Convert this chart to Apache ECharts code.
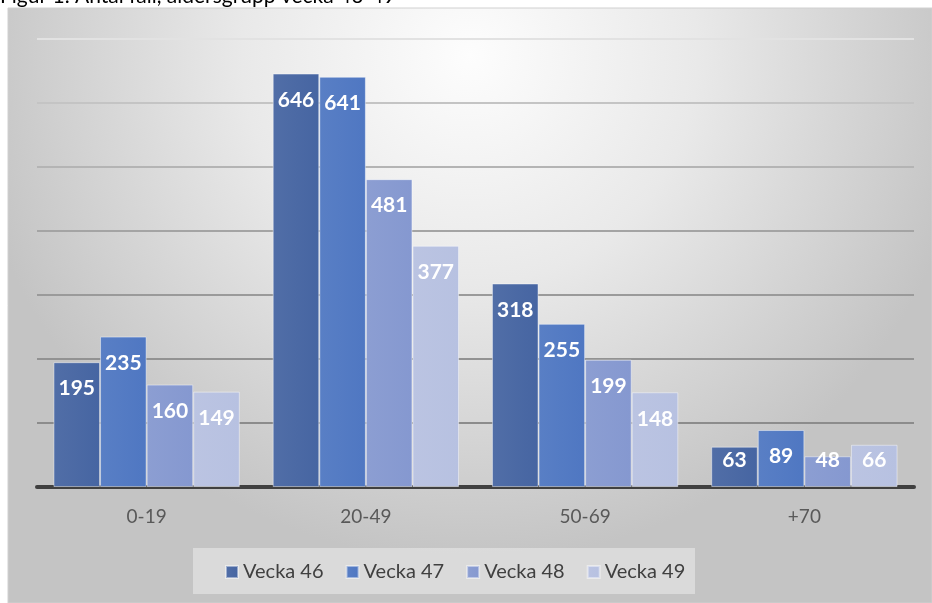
<!DOCTYPE html>
<html>
<head>
<meta charset="utf-8">
<script src="https://cdn.jsdelivr.net/npm/echarts@6/dist/echarts.min.js"></script>
<style>
  html, body { margin: 0; padding: 0; background: #fff; }
  #chart { width: 932px; height: 603px; }
</style>
</head>
<body>
<div id="chart"></div>
<script>
// age groups and weekly case counts
const categories = ['0-19', '20-49', '50-69', '+70']
const weeks = ['Vecka 46', 'Vecka 47', 'Vecka 48', 'Vecka 49']
const vecka46 = [195, 646, 318, 63]
const vecka47 = [235, 641, 255, 89]
const vecka48 = [160, 481, 199, 48]
const vecka49 = [149, 377, 148, 66]
const seriesValues = [vecka46, vecka47, vecka48, vecka49]

const colors = ['#4665a2', '#4f77c2', '#8598d0', '#b7c1e1']
const font = 'Lato, "Open Sans", sans-serif'

const gridTop = 39
const gridBottom = 116
const yMax = 700
const pxPerUnit = (603 - gridTop - gridBottom) / yMax

let chart = echarts.init(document.getElementById('chart'))

const series = weeks.map((name, i) => ({
  name: name,
  type: 'bar',
  barGap: '0%',
  barCategoryGap: '15%',
  z: 3,
  data: seriesValues[i].map(v => ({
    value: v,
    // Excel keeps labels off the axis: short bars get the label pulled up
    label: { distance: Math.min(16, v * pxPerUnit - 37) }
  })),
  itemStyle: {
    color: new echarts.graphic.LinearGradient(0, 0, 1, 0, [
      { offset: 0, color: echarts.color.lift(colors[i], 0.06) },
      { offset: 1, color: colors[i] }
    ]),
    borderColor: 'rgba(255,255,255,0.45)',
    borderWidth: 1
  },
  label: {
    show: true,
    position: 'insideTop',
    color: '#fff',
    fontFamily: font,
    fontWeight: 'bold',
    fontSize: 21
  }
}))

const option = {
  animation: false,
  color: colors,
  graphic: [
    {
      type: 'rect',
      z: -10,
      shape: { x: 8, y: 8, width: 924, height: 595 },
      style: {
        fill: new echarts.graphic.RadialGradient(0.5, 0.08, 0.85, [
          { offset: 0, color: '#fdfdfd' },
          { offset: 0.45, color: '#e9e9e9' },
          { offset: 1, color: '#c4c4c4' }
        ]),
        stroke: '#d0d0d0',
        lineWidth: 1
      }
    },
    {
      type: 'text',
      left: 0,
      top: -14,
      style: {
        text: 'Figur 1. Antal fall, åldersgrupp vecka 46-49',
        fontFamily: font,
        fontSize: 21,
        fill: '#000'
      }
    },
    {
      type: 'rect',
      z: -5,
      shape: { x: 193, y: 548, width: 502, height: 46 },
      style: { fill: 'rgba(240,240,240,0.5)' }
    }
  ],
  grid: {
    left: 37,
    right: 18,
    top: gridTop,
    bottom: gridBottom,
    containLabel: false
  },
  legend: {
    data: weeks,
    top: 557,
    left: 220,
    itemWidth: 12,
    itemHeight: 12,
    itemGap: 22,
    icon: 'rect',
    textStyle: { fontFamily: font, fontSize: 20, color: '#404040' }
  },
  xAxis: {
    type: 'category',
    data: categories,
    axisTick: { show: false },
    axisLine: { lineStyle: { color: '#404040', width: 4 } },
    axisLabel: {
      margin: 20,
      fontFamily: font,
      fontSize: 19,
      color: '#595959'
    }
  },
  yAxis: {
    type: 'value',
    min: 0,
    max: yMax,
    interval: 100,
    axisLabel: { show: false },
    axisLine: { show: false },
    axisTick: { show: false },
    splitLine: {
      lineStyle: {
        width: 2,
        color: ['#8c8c8c', '#8c8c8c', '#929292', '#9a9a9a', '#a4a4a4', '#b4b4b4', '#c4c4c4', '#e2e2e2']
      }
    }
  },
  series: series
}

chart.setOption(option)
</script>
</body>
</html>
